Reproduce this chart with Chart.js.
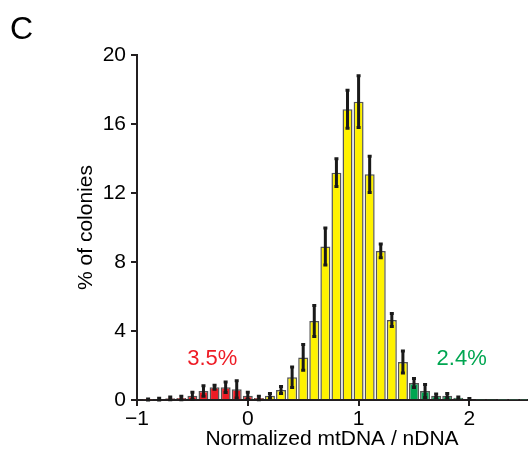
<!DOCTYPE html>
<html>
<head>
<meta charset="utf-8">
<script src="https://cdn.jsdelivr.net/npm/chart.js@4"></script>
<style>
  html, body { margin: 0; padding: 0; background: #fff; }
  canvas { display: block; }
</style>
</head>
<body>
<canvas id="histChart" width="529" height="460"></canvas>
<script>
// bin centres (normalized mtDNA / nDNA)
const bins = [-0.9, -0.8, -0.7, -0.6, -0.5, -0.4, -0.3, -0.2, -0.1, 0.0,
  0.1, 0.2, 0.3, 0.4, 0.5, 0.6, 0.7, 0.8, 0.9, 1.0,
  1.1, 1.2, 1.3, 1.4, 1.5, 1.6, 1.7, 1.8, 1.9, 2.0,
  2.1, 2.2, 2.3, 2.4, 2.5];
// % of colonies
const pct = [0.03, 0.05, 0.1, 0.12, 0.25, 0.52, 0.74, 0.74, 0.62, 0.25,
  0.12, 0.25, 0.58, 1.32, 2.47, 4.58, 8.9, 13.18, 16.85, 17.29,
  13.08, 8.64, 4.64, 2.2, 0.98, 0.52, 0.25, 0.25, 0.13, 0.06,
  0.03, 0.03, 0.02, 0.02, 0.02];
// error (+/-)
const err = [0.03, 0.05, 0.08, 0.1, 0.2, 0.3, 0.12, 0.3, 0.5, 0.2,
  0.1, 0.12, 0.2, 0.6, 0.75, 0.9, 1.07, 0.8, 1.1, 1.5,
  1.05, 0.4, 0.38, 0.64, 0.26, 0.38, 0.1, 0.12, 0.05, 0.03,
  0, 0, 0, 0, 0];
const yTicks = [0, 4, 8, 12, 16, 20];
const xTicks = [-1, 0, 1, 2];
const lowLabel = '3.5%';
const highLabel = '2.4%';

const RED = '#ee1c25', YELLOW = '#fff200', GREEN = '#00a651', INK = '#231f20';
const fillFor = x => x <= 0.15 ? RED : (x >= 1.45 ? GREEN : YELLOW);

// error bars + annotations
const extras = {
  id: 'extras',
  afterDatasetsDraw(chart) {
    const ctx = chart.ctx, xs = chart.scales.x, ys = chart.scales.y;
    ctx.save();
    ctx.strokeStyle = '#1a1a1a';
    ctx.lineWidth = 3;
    bins.forEach((b, i) => {
      if (!err[i]) return;
      const px = xs.getPixelForValue(b);
      const top = ys.getPixelForValue(pct[i] + err[i]);
      const bot = ys.getPixelForValue(Math.max(pct[i] - err[i], 0));
      ctx.beginPath();
      ctx.moveTo(px, top); ctx.lineTo(px, bot);
      ctx.moveTo(px - 2, top); ctx.lineTo(px + 2, top);
      ctx.moveTo(px - 2, bot); ctx.lineTo(px + 2, bot);
      ctx.stroke();
    });
    ctx.textBaseline = 'middle';
    ctx.textAlign = 'center';
    ctx.font = '22px "Liberation Sans", Arial, sans-serif';
    ctx.fillStyle = RED;
    ctx.fillText(lowLabel, xs.getPixelForValue(-0.32), ys.getPixelForValue(2.4));
    ctx.fillStyle = GREEN;
    ctx.fillText(highLabel, xs.getPixelForValue(1.93), ys.getPixelForValue(2.4));
    ctx.fillStyle = '#000';
    ctx.textAlign = 'left';
    ctx.font = '32px "Liberation Sans", Arial, sans-serif';
    ctx.fillText('C', 10, 30);
    ctx.restore();
  }
};

const ctx = document.getElementById('histChart').getContext('2d');
new Chart(ctx, {
  type: 'bar',
  data: {
    datasets: [{
      data: bins.map((b, i) => ({ x: b, y: pct[i] })),
      backgroundColor: bins.map(fillFor),
      borderColor: '#555',
      borderWidth: 1.5,
      barPercentage: 0.9,
      categoryPercentage: 1.0
    }]
  },
  options: {
    responsive: false,
    animation: false,
    devicePixelRatio: 1,
    layout: { padding: { left: 60, top: 55, right: 2, bottom: 8 } },
    plugins: { legend: { display: false }, tooltip: { enabled: false } },
    scales: {
      x: {
        type: 'linear',
        min: -1,
        max: 2.52,
        offset: false,
        afterBuildTicks: s => { s.ticks = xTicks.map(v => ({ value: v })); },
        afterFit: s => { s.height = 52; },
        border: { color: INK, width: 2 },
        grid: { display: true, offset: false, drawOnChartArea: false, color: INK, lineWidth: 2, tickLength: 6 },
        ticks: {
          color: '#000', padding: 1,
          font: { family: '"Liberation Sans", Arial, sans-serif', size: 21 },
          callback: v => String(v).replace('-', '\u2212')
        },
        title: {
          display: true, text: 'Normalized mtDNA / nDNA', color: '#000',
          font: { family: '"Liberation Sans", Arial, sans-serif', size: 21 },
          padding: { top: 0, bottom: 0 }
        }
      },
      y: {
        min: 0,
        max: 20,
        afterBuildTicks: s => { s.ticks = yTicks.map(v => ({ value: v })); },
        afterFit: s => { s.width = 77; },
        border: { color: INK, width: 2 },
        grid: { display: true, drawOnChartArea: false, color: INK, lineWidth: 2, tickLength: 6 },
        ticks: {
          color: '#000', padding: 5,
          font: { family: '"Liberation Sans", Arial, sans-serif', size: 21 }
        },
        title: {
          display: true, text: '% of colonies', color: '#000',
          font: { family: '"Liberation Sans", Arial, sans-serif', size: 21 },
          padding: { top: 14, bottom: 0 }
        }
      }
    }
  },
  plugins: [extras]
});
</script>
</body>
</html>
